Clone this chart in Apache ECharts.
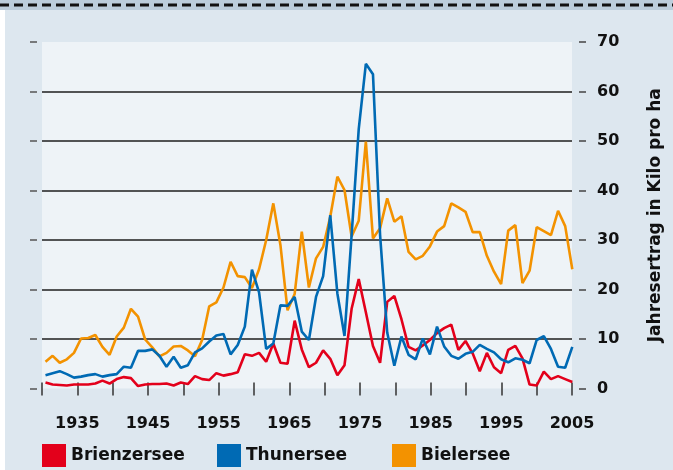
<!DOCTYPE html>
<html>
<head>
<meta charset="utf-8">
<script src="https://cdn.jsdelivr.net/npm/echarts@6/dist/echarts.min.js"></script>
<style>
html,body{margin:0;padding:0;background:#fff;}
#main{width:673px;height:470px;}
</style>
</head>
<body>
<div id="main"></div>
<script>
var years = [];
for (var y = 1931; y <= 2005; y++) years.push(y);

var brienzersee = [1.2,0.8,0.7,0.6,0.8,0.8,0.8,1.0,1.6,1.0,1.9,2.3,2.1,0.5,0.8,0.9,0.9,1.0,0.6,1.2,
  0.9,2.5,1.9,1.7,3.1,2.6,2.9,3.3,6.9,6.6,7.2,5.4,9.1,5.2,5.0,13.7,7.9,4.3,5.2,7.7,
  6.0,2.7,4.7,16.1,22.1,15.4,8.6,5.2,17.5,18.7,14.0,8.4,7.7,8.7,9.8,11.2,12.2,12.9,7.8,9.6,
  7.1,3.5,7.2,4.3,3.1,7.8,8.6,6.1,0.8,0.6,3.4,1.9,2.5,1.9,1.3];
var thunersee = [2.7,3.1,3.5,2.9,2.2,2.4,2.7,2.9,2.4,2.7,2.9,4.4,4.2,7.6,7.6,7.9,6.6,4.4,6.4,4.2,
  4.7,7.3,8.1,9.5,10.7,11.0,6.9,8.8,12.5,24.0,19.4,8.0,9.1,16.8,16.7,18.5,11.5,9.8,18.5,22.7,
  35.0,19.2,10.6,31.0,52.4,65.6,63.5,31.0,11.3,4.6,10.5,6.8,5.9,10.1,6.9,12.5,8.5,6.6,6.0,7.0,
  7.4,8.8,8.0,7.3,5.9,5.3,6.1,5.8,5.1,9.8,10.6,8.0,4.4,4.2,8.4];
var bielersee = [5.4,6.6,5.2,5.9,7.2,10.1,10.2,10.8,8.4,6.8,10.5,12.3,16.1,14.5,9.9,8.3,6.5,7.2,8.5,8.6,
  7.7,6.5,9.8,16.6,17.4,20.4,25.6,22.7,22.5,20.3,24.1,30.0,37.4,29.0,15.8,19.1,31.7,20.4,26.3,28.6,
  34.7,42.8,40.1,30.7,33.9,49.9,30.3,32.4,38.4,33.7,34.8,27.6,26.1,26.8,28.7,31.7,32.8,37.4,36.6,35.7,
  31.6,31.6,26.8,23.6,21.1,31.9,33.0,21.3,23.8,32.6,31.8,31.0,35.9,32.8,24.1];

var seriesNames = ['Brienzersee', 'Thunersee', 'Bielersee'];
var seriesColors = ['#e3001b', '#006ab4', '#f39200'];
var axisName = 'Jahresertrag in Kilo pro ha';

function pairs(vals) {
    return vals.map(function (v, i) { return [years[i], v]; });
}

var dom = document.getElementById('main');
var myChart = echarts.init(dom, null, {renderer: 'canvas'});
var fontFamily = '"DejaVu Sans", sans-serif';

var legendLeft = [42, 217, 392];
var legends = seriesNames.map(function (n, i) {
    return {
        left: legendLeft[i], top: 444, padding: 0,
        data: [n], icon: 'rect', itemWidth: 24, itemHeight: 23,
        selectedMode: false,
        textStyle: {fontFamily: fontFamily, fontWeight: 'bold', fontSize: 17, color: '#111'}
    };
});

option = {
    backgroundColor: '#fff',
    animation: false,
    color: seriesColors,
    graphic: [
        {type: 'rect', z: -1, shape: {x: 5, y: 0, width: 668, height: 470}, style: {fill: '#dde7ef'}},
        {type: 'rect', z: -1, shape: {x: 0, y: 0, width: 673, height: 10}, style: {fill: '#bccddb'}},
        {type: 'line', z: 10, shape: {x1: 0, y1: 5, x2: 673, y2: 5},
            style: {stroke: '#111', lineWidth: 3, lineDash: [9, 5]}}
    ],
    legend: legends,
    grid: [
        // axes, ticks and plot background
        {left: 42, right: 101, top: 42, bottom: 81.5, show: true, backgroundColor: '#eef3f7', borderWidth: 0},
        // data
        {left: 45.5, right: 100.7, top: 42, bottom: 81.5}
    ],
    xAxis: [
        {type: 'value', gridIndex: 0, position: 'bottom', min: 1930, max: 2005, interval: 5, offset: 7,
            axisLine: {show: false},
            axisTick: {show: true, length: 7, lineStyle: {color: '#333', width: 1.5}},
            splitLine: {show: false},
            axisLabel: {margin: 20, fontFamily: fontFamily, fontWeight: 'bold', fontSize: 16, color: '#111',
                formatter: function (v) { return (v - 1935) % 10 === 0 ? String(v) : ''; }}
        },
        {type: 'value', gridIndex: 0, position: 'top', min: 1930, max: 2005, interval: 5, offset: 8,
            axisLine: {show: false},
            axisTick: {show: true, length: 6, lineStyle: {color: '#333', width: 1.5}},
            splitLine: {show: false}, axisLabel: {show: false}
        },
        {type: 'value', gridIndex: 1, min: 1931, max: 2005, show: false}
    ],
    yAxis: [
        {type: 'value', gridIndex: 0, position: 'right', min: 0, max: 70, interval: 10, offset: 7,
            name: axisName, nameLocation: 'middle', nameRotate: 90, nameGap: 68,
            nameTextStyle: {fontFamily: fontFamily, fontWeight: 'bold', fontSize: 17, color: '#111'},
            axisLine: {show: false},
            axisTick: {show: true, length: 7, lineStyle: {color: '#444', width: 1.5}},
            axisLabel: {margin: 18, fontFamily: fontFamily, fontWeight: 'bold', fontSize: 16, color: '#111'},
            splitLine: {show: false}
        },
        {type: 'value', gridIndex: 0, position: 'left', min: 0, max: 70, interval: 10, offset: 5,
            axisLine: {show: false},
            axisTick: {show: true, length: 7, lineStyle: {color: '#555', width: 1.5}},
            axisLabel: {show: false},
            splitLine: {show: true, showMinLine: false, showMaxLine: false, lineStyle: {color: '#1e1e1e', width: 1.5}}
        },
        {type: 'value', gridIndex: 1, min: 0, max: 70, show: false}
    ],
    series: [
        {name: seriesNames[0], type: 'line', xAxisIndex: 2, yAxisIndex: 2, data: pairs(brienzersee),
            symbol: 'none', lineStyle: {width: 2.6, color: seriesColors[0]}, itemStyle: {color: seriesColors[0]}, z: 3},
        {name: seriesNames[1], type: 'line', xAxisIndex: 2, yAxisIndex: 2, data: pairs(thunersee),
            symbol: 'none', lineStyle: {width: 2.6, color: seriesColors[1]}, itemStyle: {color: seriesColors[1]}, z: 4},
        {name: seriesNames[2], type: 'line', xAxisIndex: 2, yAxisIndex: 2, data: pairs(bielersee),
            symbol: 'none', lineStyle: {width: 2.6, color: seriesColors[2]}, itemStyle: {color: seriesColors[2]}, z: 2}
    ]
};

if (option && typeof option === 'object') {
    myChart.setOption(option, true);
}
</script>
</body>
</html>
